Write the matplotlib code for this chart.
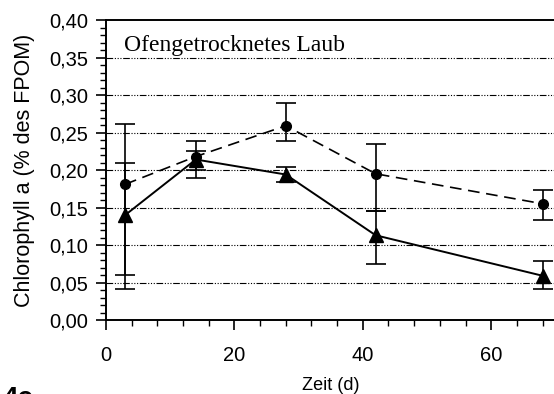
import matplotlib
matplotlib.use("Agg")
import matplotlib.pyplot as plt
from matplotlib.ticker import MultipleLocator

# sampling days
days = [3, 14, 28, 42, 68]

# circles (dashed line)
circle_vals = [0.181, 0.218, 0.259, 0.195, 0.155]
circle_upper = [0.261, 0.239, 0.289, 0.235, 0.173]
circle_lower = [0.041, 0.200, 0.239, 0.145, 0.133]

# triangles (solid line)
tri_vals = [0.140, 0.214, 0.194, 0.113, 0.059]
tri_upper = [0.210, 0.225, 0.204, 0.145, 0.079]
tri_lower = [0.060, 0.189, 0.184, 0.075, 0.041]

y_ticks = [0.0, 0.05, 0.10, 0.15, 0.20, 0.25, 0.30, 0.35, 0.40]
grid_levels = [0.05, 0.10, 0.15, 0.20, 0.25, 0.30, 0.35]

plt.rcParams["font.family"] = ["Liberation Sans", "DejaVu Sans"]

fig = plt.figure(figsize=(5.54, 3.94), dpi=100)
ax = fig.add_axes([0.1913, 0.1878, 0.8112, 0.7614])

for g in grid_levels:
    ax.axhline(g, color="black", linewidth=0.8, dashes=(6, 1.5, 1, 1.5, 1, 1.5, 1, 1.5), zorder=1)


def errs(vals, up, lo):
    return [[v - l for v, l in zip(vals, lo)], [u - v for v, u in zip(vals, up)]]


ax.errorbar(days, circle_vals, yerr=errs(circle_vals, circle_upper, circle_lower),
            fmt="o", color="black", ecolor="black", elinewidth=1.2, capsize=7,
            capthick=1.2, markersize=7, zorder=3)
ax.plot(days, circle_vals, color="black", linewidth=1.2, dashes=(7, 4), zorder=2)

ax.errorbar(days, tri_vals, yerr=errs(tri_vals, tri_upper, tri_lower),
            fmt="^", color="black", ecolor="black", elinewidth=1.2, capsize=7,
            capthick=1.2, markersize=10, zorder=3)
ax.plot(days, tri_vals, color="black", linewidth=1.4, zorder=2)

ax.set_xlim(0, 70)
ax.set_ylim(0, 0.40)
ax.set_yticks(y_ticks)
ax.set_yticklabels([("%.2f" % t).replace(".", ",") for t in y_ticks])
ax.yaxis.set_minor_locator(MultipleLocator(0.01))
ax.xaxis.set_major_locator(MultipleLocator(20))
ax.xaxis.set_minor_locator(MultipleLocator(4))

ax.tick_params(axis="both", which="major", direction="out", length=7, width=1.2,
               labelsize=14.5, pad=6)
ax.tick_params(axis="both", which="minor", direction="out", length=4, width=1.0)
ax.tick_params(axis="x", pad=12)
for s in ax.spines.values():
    s.set_linewidth(1.4)

ax.set_xlabel("Zeit (d)", fontsize=13, labelpad=8)
ax.set_ylabel("Chlorophyll a (% des FPOM)", fontsize=15.5, labelpad=10)

ax.text(0.04, 0.915, "Ofengetrocknetes Laub", transform=ax.transAxes,
        fontsize=17, family=["Liberation Serif", "DejaVu Serif"], va="center", ha="left")

fig.text(0.004, -0.045, "4c", fontsize=20, fontweight="bold", ha="left", va="bottom")

fig.savefig("out.png", dpi=100)
